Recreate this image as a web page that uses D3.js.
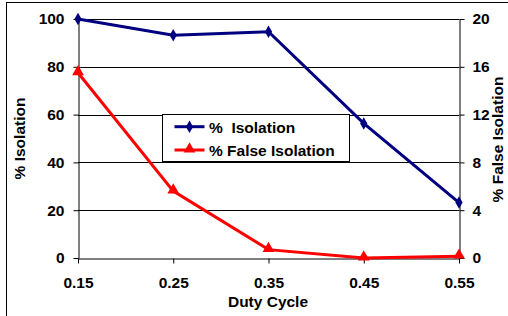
<!DOCTYPE html>
<html>
<head>
<meta charset="utf-8">
<script src="https://cdn.jsdelivr.net/npm/d3@7"></script>
<style>
  body { margin: 0; background: #fff; }
  svg text { font-family: Arial, "Liberation Sans", sans-serif; font-weight: bold; }
</style>
</head>
<body>
<svg id="canvas" width="508" height="316"></svg>
<script>
let dutyCycle = [0.15, 0.25, 0.35, 0.45, 0.55]
let isolation = [100, 93.2, 94.7, 56.3, 23.2]
let falseIsolation = [15.5, 5.6, 0.7, 0, 0.15]
let leftTicks = [0, 20, 40, 60, 80, 100]
let rightTicks = [0, 4, 8, 12, 16, 20]
let xLabels = ['0.15', '0.25', '0.35', '0.45', '0.55']

let svg = d3.select('#canvas')
let fontSize = '15.5px'

// outer frame (chart border, right/bottom clipped)
svg.append('rect')
    .attr('x', 6.5).attr('y', 2.5)
    .attr('width', 540).attr('height', 340)
    .attr('fill', 'white').attr('stroke', 'black').attr('stroke-width', 1)

let plotL = 78, plotR = 459, plotT = 19, plotB = 258

let x = d3.scaleLinear().domain([0.15, 0.55]).range([plotL, plotR])
let yL = d3.scaleLinear().domain([0, 100]).range([plotB, plotT])
let yR = d3.scaleLinear().domain([0, 20]).range([plotB, plotT])

// gridlines
svg.append('g').selectAll('line')
    .data(leftTicks.slice(1))
    .enter().append('line')
    .attr('x1', plotL).attr('x2', plotR)
    .attr('y1', d => Math.round(yL(d)) + 0.5)
    .attr('y2', d => Math.round(yL(d)) + 0.5)
    .attr('stroke', 'black').attr('stroke-width', 1)

let styleAxis = g => {
    g.select('.domain').attr('stroke', 'black')
    g.selectAll('.tick line').attr('stroke', 'black')
    g.selectAll('.tick text').attr('fill', 'black').style('font-size', fontSize)
}

svg.append('g')
    .attr('transform', `translate(${plotL + 0.5},0)`)
    .call(d3.axisLeft(yL).tickValues(leftTicks).tickSize(5).tickSizeOuter(0).tickPadding(9))
    .call(styleAxis)

svg.append('g')
    .attr('transform', `translate(${plotR + 0.5},0)`)
    .call(d3.axisRight(yR).tickValues(rightTicks).tickSize(5).tickSizeOuter(0).tickPadding(8))
    .call(styleAxis)

svg.append('g')
    .attr('transform', `translate(0,${plotB + 0.5})`)
    .call(d3.axisBottom(x).tickValues(dutyCycle).tickFormat((d, i) => xLabels[i]).tickSize(5).tickSizeOuter(0).tickPadding(13))
    .call(styleAxis)

// axis titles
svg.append('text')
    .attr('x', 268).attr('y', 307)
    .attr('text-anchor', 'middle')
    .style('font-size', fontSize)
    .text('Duty Cycle')

svg.append('text')
    .attr('transform', `translate(25,${(plotT + plotB) / 2}) rotate(-90)`)
    .attr('text-anchor', 'middle')
    .style('font-size', fontSize)
    .text('% Isolation')

svg.append('text')
    .attr('transform', `translate(503,${(plotT + plotB) / 2 + 1}) rotate(-90)`)
    .attr('text-anchor', 'middle')
    .style('font-size', fontSize)
    .text('% False Isolation')

// series
let isoLine = d3.line().x((d, i) => x(dutyCycle[i])).y(d => yL(d))
let falseLine = d3.line().x((d, i) => x(dutyCycle[i])).y(d => yR(d))

svg.append('path')
    .datum(isolation)
    .attr('d', isoLine)
    .attr('fill', 'none').attr('stroke', '#000080').attr('stroke-width', 3)

svg.append('g').selectAll('path')
    .data(isolation)
    .enter().append('path')
    .attr('transform', (d, i) => `translate(${x(dutyCycle[i])},${yL(d)})`)
    .attr('d', d3.symbol(d3.symbolDiamond, 45))
    .attr('fill', '#000080')

svg.append('path')
    .datum(falseIsolation)
    .attr('d', falseLine)
    .attr('fill', 'none').attr('stroke', '#ff0000').attr('stroke-width', 3)

svg.append('g').selectAll('path')
    .data(falseIsolation)
    .enter().append('path')
    .attr('transform', (d, i) => `translate(${x(dutyCycle[i])},${yR(d) - 1})`)
    .attr('d', d3.symbol(d3.symbolTriangle, 60))
    .attr('fill', '#ff0000')

// legend
let legend = svg.append('g').attr('transform', 'translate(162.5,114.5)')
legend.append('rect')
    .attr('width', 187).attr('height', 47)
    .attr('fill', 'white').attr('stroke', 'black').attr('stroke-width', 1)

let legendItems = [
    { name: '%  Isolation', color: '#000080', sym: d3.symbolDiamond, size: 45 },
    { name: '% False Isolation', color: '#ff0000', sym: d3.symbolTriangle, size: 60 }
]
legendItems.forEach((it, i) => {
    let cy = 12.2 + i * 23.3
    legend.append('line')
        .attr('x1', 12).attr('x2', 42).attr('y1', cy).attr('y2', cy)
        .attr('stroke', it.color).attr('stroke-width', 3)
    legend.append('path')
        .attr('transform', `translate(27,${cy - (i ? 1 : 0)})`)
        .attr('d', d3.symbol(it.sym, it.size))
        .attr('fill', it.color)
    legend.append('text')
        .attr('x', 46.5).attr('y', cy + 6.3)
        .style('font-size', fontSize)
        .style('white-space', 'pre')
        .text(it.name)
})
</script>
</body>
</html>
